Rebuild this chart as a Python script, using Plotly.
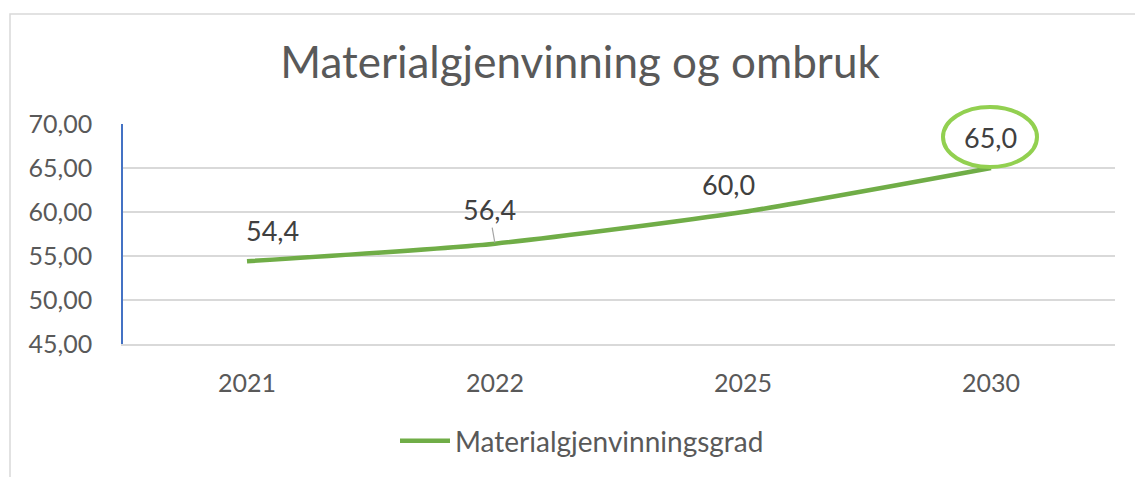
import plotly.graph_objects as go

years = ["2021", "2022", "2025", "2030"]
values = [54.4, 56.4, 60.0, 65.0]
series_name = "Materialgjenvinningsgrad"
title_text = "Materialgjenvinning og ombruk"
y_ticks = [45, 50, 55, 60, 65, 70]
y_min, y_max = 45, 70

FONT = "Lato, Carlito, Calibri, sans-serif"
GREEN = "#70AD47"
x_idx = list(range(len(years)))

fig = go.Figure()
fig.add_trace(go.Scatter(
    x=x_idx, y=values, mode="lines", name=series_name,
    line=dict(color=GREEN, width=4.5, shape="spline", smoothing=0.6),
    hoverinfo="skip",
))

# data labels (offsets in pixels, like manually moved Excel labels)
offsets = [(25, -31), (-6, -34), (-15, -28), (-1, -31)]
for i, (xv, yv) in enumerate(zip(x_idx, values)):
    dx, dy = offsets[i]
    lab = f"{yv:.1f}".replace(".", ",")
    if i == 1:
        fig.add_annotation(x=xv, y=yv, xref="x", yref="y", text=lab,
                           showarrow=True, arrowhead=0, arrowwidth=1.2,
                           arrowcolor="#A6A6A6", ax=dx, ay=dy, standoff=1,
                           font=dict(family=FONT, size=27, color="#404040"))
    else:
        fig.add_annotation(x=xv, y=yv, xref="x", yref="y", text=lab,
                           showarrow=False, xshift=dx, yshift=-dy,
                           font=dict(family=FONT, size=27, color="#404040"))

# highlight ellipse around last label (y in paper so it is not clipped)
fig.add_shape(type="circle", xref="x", yref="paper",
              xsizemode="pixel", ysizemode="pixel",
              xanchor=x_idx[-1], yanchor=(values[-1] - y_min) / (y_max - y_min),
              x0=-48, x1=46, y0=1, y1=61,
              line=dict(color="#92D050", width=4), layer="above")

# chart-area border (top & left visible)
fig.add_shape(type="rect", xref="paper", yref="paper",
              x0=(10 - 123) / 992, x1=1.2, y0=-1.0, y1=(345 - 13.5) / 221,
              line=dict(color="#D9D9D9", width=1.5), layer="below")

fig.update_layout(
    width=1135, height=477,
    margin=dict(l=123, r=20, t=124, b=132),
    paper_bgcolor="white", plot_bgcolor="white",
    separators=",.",
    hovermode=False,
    title=dict(text=title_text, x=580 / 1135, xanchor="center",
               y=1 - 63 / 477, yanchor="middle",
               font=dict(family=FONT, size=44, color="#595959")),
    showlegend=True,
    legend=dict(orientation="h", x=(582 - 123) / 992, xanchor="center",
                y=(345 - 441) / 221, yanchor="middle",
                font=dict(family=FONT, size=28, color="#595959"),
                itemwidth=50, bgcolor="rgba(0,0,0,0)"),
    xaxis=dict(tickmode="array", tickvals=x_idx, ticktext=years,
               range=[-0.5, len(years) - 0.5], showgrid=False, zeroline=False,
               showline=True, linecolor="#D9D9D9", linewidth=1.5,
               ticks="", ticklabelstandoff=16,
               tickfont=dict(family=FONT, size=25, color="#595959")),
    yaxis=dict(range=[y_min, y_max], tickvals=y_ticks, tickformat=".2f",
               showgrid=True, gridcolor="#D9D9D9", gridwidth=1.5,
               zeroline=False, showline=True, linecolor="#4472C4", linewidth=1.5,
               ticks="", ticklabelstandoff=24,
               tickfont=dict(family=FONT, size=25, color="#595959")),
)

fig.write_html("out.html", config={"displayModeBar": False},
               post_script="document.body.style.margin='0';")
